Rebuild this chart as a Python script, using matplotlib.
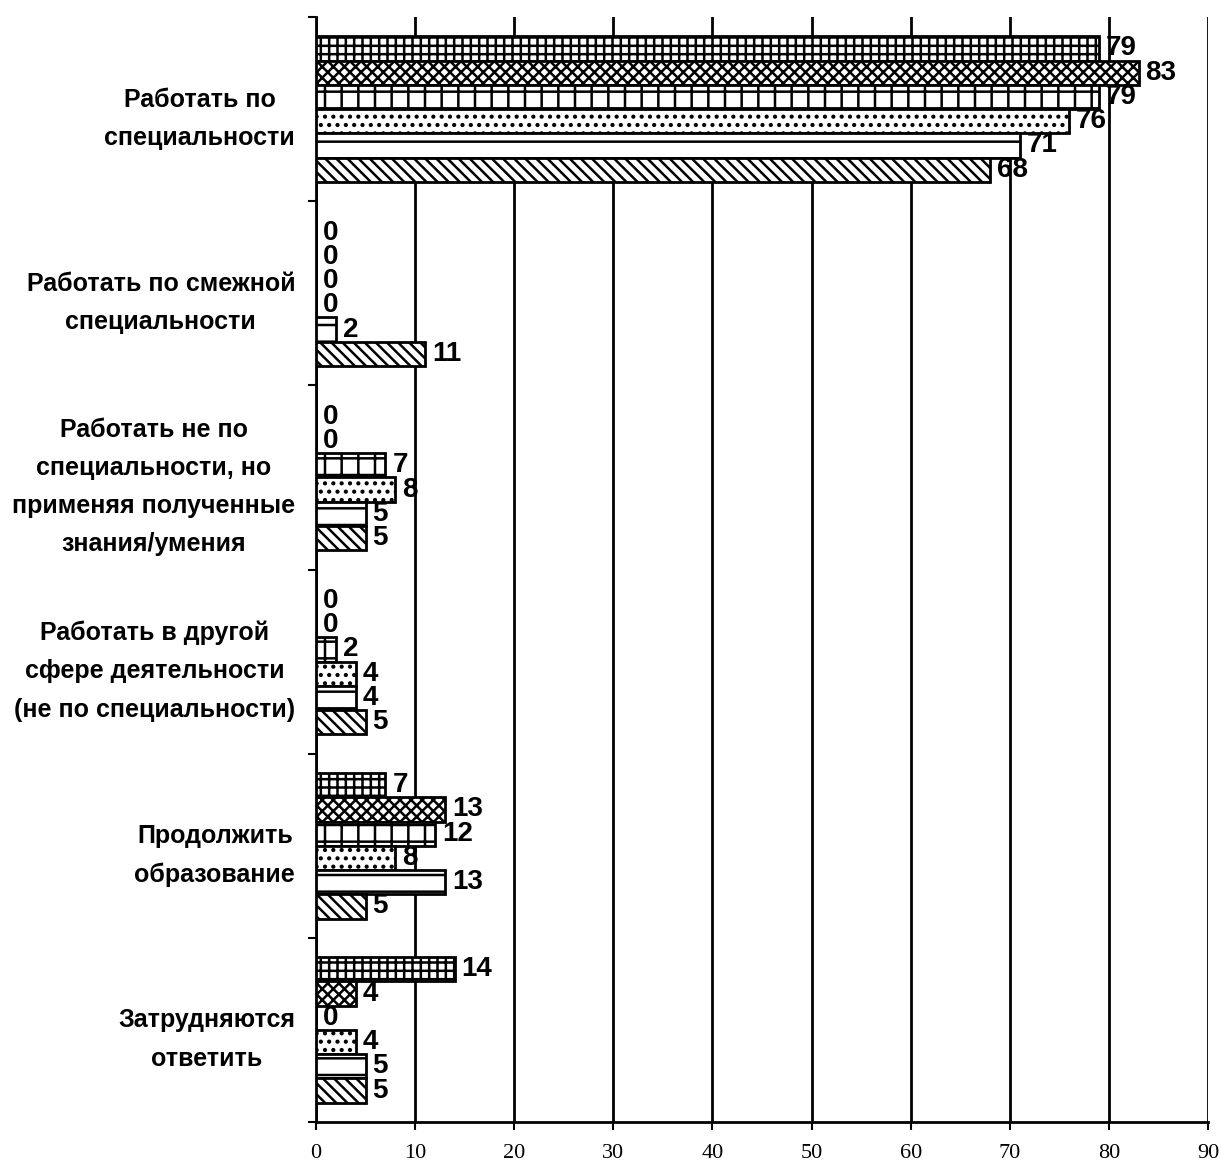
import numpy as np
import matplotlib
matplotlib.use("Agg")
import matplotlib.pyplot as plt

# Categories (top to bottom) and six series values per category
categories = [
    "Работать по\nспециальности",
    "Работать по смежной\nспециальности",
    "Работать не по\nспециальности, но\nприменяя полученные\nзнания/умения",
    "Работать в другой\nсфере деятельности\n(не по специальности)",
    "Продолжить\nобразование",
    "Затрудняются\nответить",
]
series_1 = [79, 0, 0, 0, 7, 14]
series_2 = [83, 0, 0, 0, 13, 4]
series_3 = [79, 0, 7, 2, 12, 0]
series_4 = [76, 0, 8, 4, 8, 4]
series_5 = [71, 2, 5, 4, 13, 5]
series_6 = [68, 11, 5, 5, 5, 5]
xticks = [0, 10, 20, 30, 40, 50, 60, 70, 80, 90]

all_series = [series_1, series_2, series_3, series_4, series_5, series_6]
hatches = ["++", "xxx", "+", "..", "-", "\\\\\\"]

plt.rcParams["hatch.linewidth"] = 1.8

fig = plt.figure(figsize=(12.21, 11.71), dpi=100)
ax = fig.add_axes([0.2588, 0.0418, 0.9894 - 0.2588, 0.9855 - 0.0418])

n = len(all_series)
bar_h = 0.79 / n
y = np.arange(len(categories))

label_font = ["Liberation Sans Narrow", "Liberation Sans"]

for j, (vals, hatch) in enumerate(zip(all_series, hatches)):
    pos = y + (j - (n - 1) / 2) * bar_h
    ax.barh(pos, vals, height=bar_h, color="white", edgecolor="black",
            linewidth=2, hatch=hatch, zorder=3)
    for p, v in zip(pos, vals):
        ax.text(v + 0.7, p, str(v), ha="left", va="center", fontsize=20,
                fontweight="bold", family=label_font, zorder=4)

ax.set_xlim(0, 90)
ax.set_ylim(len(categories) - 0.5, -0.5)

ax.set_xticks(xticks)
ax.set_xticklabels([str(t) for t in xticks], family="Liberation Serif", fontsize=16)
ax.tick_params(axis="x", direction="out", length=6, width=1.5, pad=10)

# boundaries as major ticks, category names as minor ticks
ax.set_yticks(np.arange(-0.5, len(categories), 1.0))
ax.set_yticklabels([])
ax.set_yticks(y, minor=True)
ax.set_yticklabels(categories, minor=True, fontsize=18, fontweight="bold",
                   family="Liberation Sans", multialignment="center",
                   linespacing=1.75)
ax.tick_params(axis="y", which="major", direction="out", length=6, width=1.5)
ax.tick_params(axis="y", which="minor", length=0, pad=15)

ax.grid(axis="x", color="black", linewidth=2)
ax.set_axisbelow(True)

ax.spines["top"].set_visible(False)
ax.spines["right"].set_visible(False)
ax.spines["left"].set_linewidth(2)
ax.spines["bottom"].set_linewidth(2)

fig.savefig("out.png", dpi=100)
